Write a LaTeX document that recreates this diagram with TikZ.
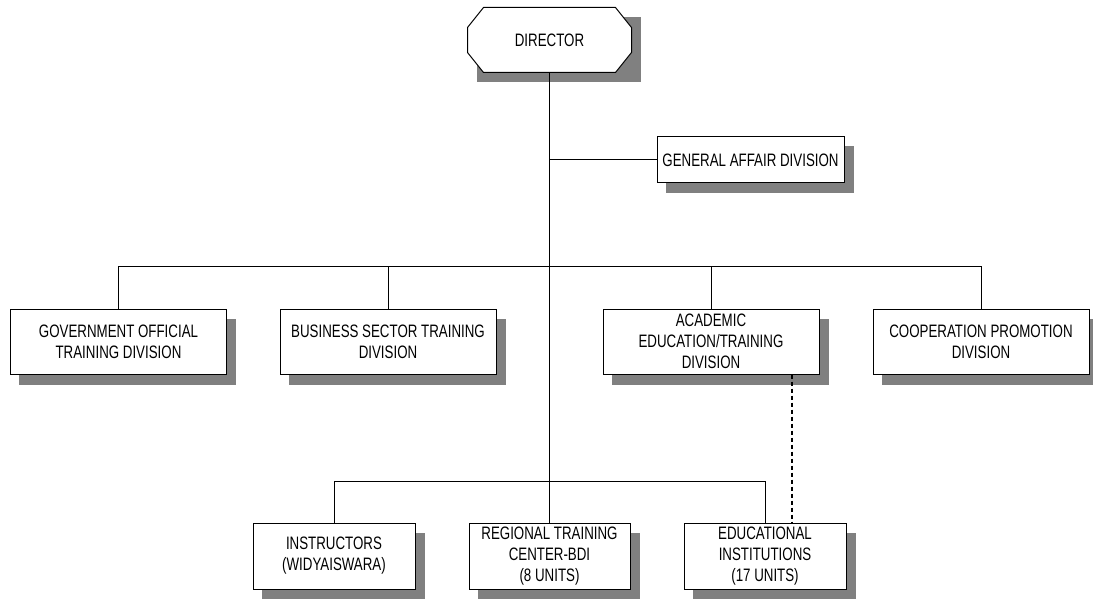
\documentclass[tikz,border=0pt]{standalone}
\usepackage{fontspec}
\setmainfont{Liberation Sans}[FakeStretch=0.74]
\usetikzlibrary{backgrounds,calc}
\tikzset{
  unitbox/.style={draw, line width=1pt, fill=white, align=center, inner sep=2pt,
    minimum width=216pt, minimum height=65pt, font=\fontsize{18}{21}\selectfont},
  headbox/.style={unitbox, draw=none, fill=none, minimum width=163pt, minimum height=64pt},
  link/.style={line width=1pt},
  dotlink/.style={line width=2pt, dash pattern=on 4.5pt off 2.5pt},
  shadowfill/.style={fill=black!50}
}
\begin{document}
\begin{tikzpicture}[x=1pt,y=-1pt]
\useasboundingbox (0,0) rectangle (1093,599);
% top
\node[headbox] (dir) at (549.5,40) {DIRECTOR};
\node[unitbox, minimum width=187pt, minimum height=46pt] (gen) at (750.5,160) {GENERAL AFFAIR DIVISION};
% divisions
\node[unitbox] (gov) at (118.5,341.5) {GOVERNMENT OFFICIAL\\TRAINING DIVISION};
\node[unitbox] (bus) at (388,341.5) {BUSINESS SECTOR TRAINING\\DIVISION};
\node[unitbox] (aca) at (711,341.5) {ACADEMIC\\EDUCATION/TRAINING\\DIVISION};
\node[unitbox] (coop) at (981,341.5) {COOPERATION PROMOTION\\DIVISION};
% lower units
\node[unitbox, minimum width=162pt, minimum height=66pt] (ins) at (334,556) {INSTRUCTORS\\(WIDYAISWARA)};
\node[unitbox, minimum width=161pt, minimum height=66pt] (reg) at (549.5,556) {REGIONAL TRAINING\\CENTER-BDI\\(8 UNITS)};
\node[unitbox, minimum width=162pt, minimum height=66pt] (edu) at (765,556) {EDUCATIONAL\\INSTITUTIONS\\(17 UNITS)};
% bus lines
\coordinate (upper) at (0,266);
\coordinate (lower) at (0,481);
\coordinate (dashx) at (792,0);
\draw[link] (dir.south) -- (reg.north);
\draw[link] (dir.south |- gen.west) -- (gen.west);
\draw[link] (gov.north) -- (gov.north |- upper) -- (coop.north |- upper) -- (coop.north);
\foreach \n in {bus,aca}
  \draw[link] (\n.north) -- (\n.north |- upper);
\draw[link] (ins.north) -- (ins.north |- lower) -- (edu.north |- lower) -- (edu.north);
\draw[dotlink] (aca.south -| dashx) -- (edu.north -| dashx);
% shadows and the director's octagon
\begin{scope}[on background layer]
\foreach \n in {dir,gen,gov,bus,aca,coop,ins,reg,edu}
  \fill[shadowfill] ($(\n.west |- \n.south)+(9,10)$) rectangle ($(\n.east |- \n.north)+(9,10)$);
\draw[link, fill=white] ([xshift=16pt]dir.north west) -- ([xshift=-16pt]dir.north east)
  -- ([yshift=-20pt]dir.north east) -- ([yshift=20pt]dir.south east)
  -- ([xshift=-16pt]dir.south east) -- ([xshift=16pt]dir.south west)
  -- ([yshift=20pt]dir.south west) -- ([yshift=-20pt]dir.north west) -- cycle;
\end{scope}
\end{tikzpicture}
\end{document}
